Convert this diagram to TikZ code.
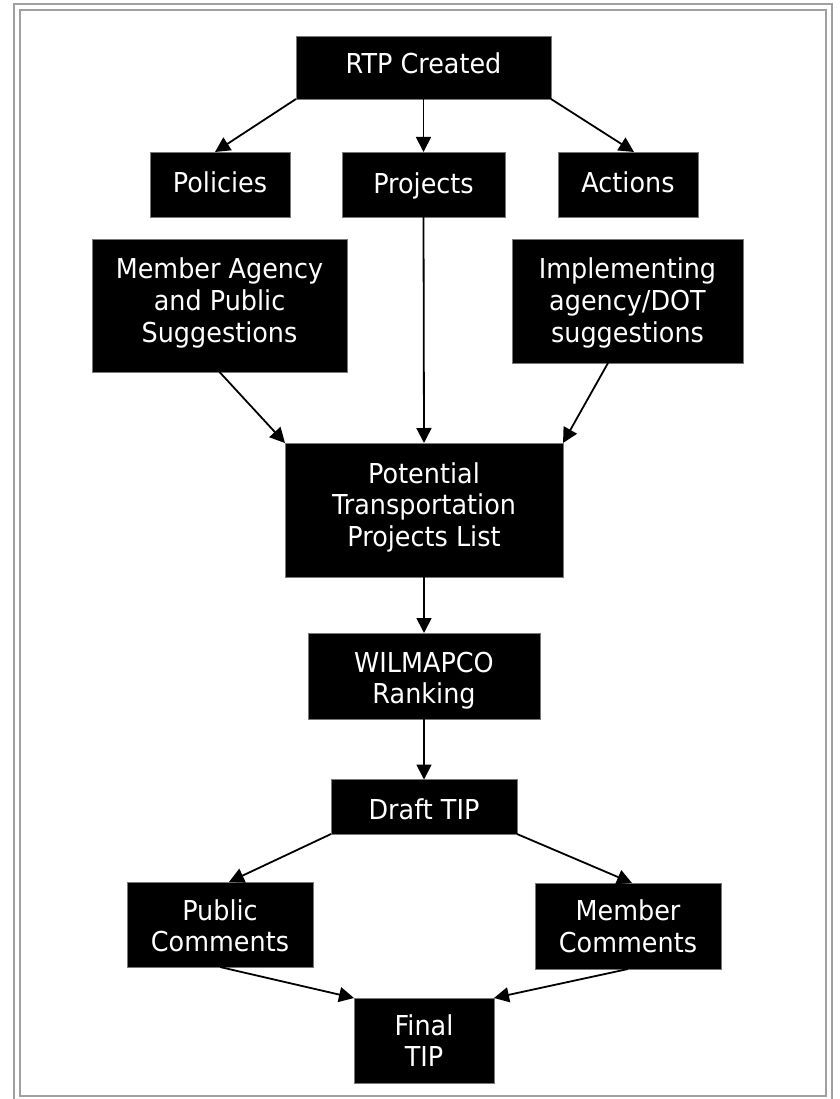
\documentclass[tikz,border=0pt]{standalone}
\usepackage{fontspec}
\setmainfont[FakeStretch=0.93]{DejaVu Sans}
\usetikzlibrary{arrows.meta}
\definecolor{framegray}{RGB}{160,160,160}
\definecolor{edgegray}{RGB}{120,120,120}
\begin{document}
\begin{tikzpicture}[x=1pt,y=-1pt,
  box/.style={fill=black,draw=edgegray,line width=0.6pt,inner sep=0pt,outer sep=0pt},
  lbl/.style={text=white,align=center,inner sep=0pt,font=\fontsize{27.4}{31.7}\selectfont},
  arr/.style={line width=1.8pt,-{Triangle[length=15pt,width=15pt]}},
  frameline/.style={draw=framegray,line width=2pt}]
\useasboundingbox (0,0) rectangle (839,1099);
\fill[white] (0,0) rectangle (839,1099);
\draw[frameline] (14,4) rectangle (832,1100);
\draw[frameline] (20,10) rectangle (826,1096);

% boxes
\node[box,minimum width=255pt,minimum height=63pt] (rtp) at (423.5,67.5) {};
\node[box,minimum width=140pt,minimum height=65pt] (pol) at (220,184.5) {};
\node[box,minimum width=163pt,minimum height=65pt] (proj) at (423.5,184.5) {};
\node[box,minimum width=140pt,minimum height=65pt] (act) at (628,184.5) {};
\node[box,minimum width=255pt,minimum height=133pt] (mem) at (219.5,305.5) {};
\node[box,minimum width=231pt,minimum height=124pt] (imp) at (627.5,301) {};
\node[box,minimum width=278pt,minimum height=134pt] (pot) at (424,510) {};
\node[box,minimum width=232pt,minimum height=86pt] (wil) at (424,676) {};
\node[box,minimum width=186pt,minimum height=54.5pt] (draft) at (424,806.75) {};
\node[box,minimum width=186pt,minimum height=85pt] (pub) at (220,924.5) {};
\node[box,minimum width=186pt,minimum height=86pt] (memc) at (628,926) {};
\node[box,minimum width=140pt,minimum height=85pt] (fin) at (424,1040.5) {};

% texts
\node[lbl] (rtpT) at (423.5,63) {RTP Created};
\node[lbl] (polT) at (220,182.5) {Policies};
\node[lbl] (projT) at (423.5,185.7) {Projects};
\node[lbl] (actT) at (628,182.5) {Actions};
\node[lbl] (memT) at (219.5,302.9) {Member Agency\\and Public\\Suggestions};
\node[lbl] (impT) at (627.5,302.9) {Implementing\\agency/DOT\\suggestions};
\node[lbl] (potT) at (424,507.2) {Potential\\Transportation\\Projects List};
\node[lbl] (wilT) at (424,680.7) {WILMAPCO\\Ranking};
\node[lbl] (draftT) at (424,809.7) {Draft TIP};
\node[lbl] (pubT) at (220,925.8) {Public\\Comments};
\node[lbl] (memcT) at (628,926.2) {Member\\Comments};
\node[lbl] (finT) at (424,1040.6) {Final\\TIP};

% connectors
\draw[arr] (rtp.south west) -- ([xshift=-5pt]pol.north);
\draw[arr] (rtp.south) -- (proj.north);
\draw[arr] (rtp.south east) -- ([xshift=6pt]act.north);
\draw[arr] (proj.south) -- (pot.north);
\draw[arr] (mem.south) -- (pot.north west);
\draw[arr] ([xshift=-19.5pt]imp.south) -- (pot.north east);
\draw[arr] (pot.south) -- (wil.north);
\draw[arr] (wil.south) -- (draft.north);
\draw[arr] (draft.south west) -- ([xshift=9pt]pub.north);
\draw[arr] (draft.south east) -- ([xshift=4pt]memc.north);
\draw[arr] (pub.south) -- (fin.north west);
\draw[arr] (memc.south) -- (fin.north east);
\end{tikzpicture}
\end{document}
